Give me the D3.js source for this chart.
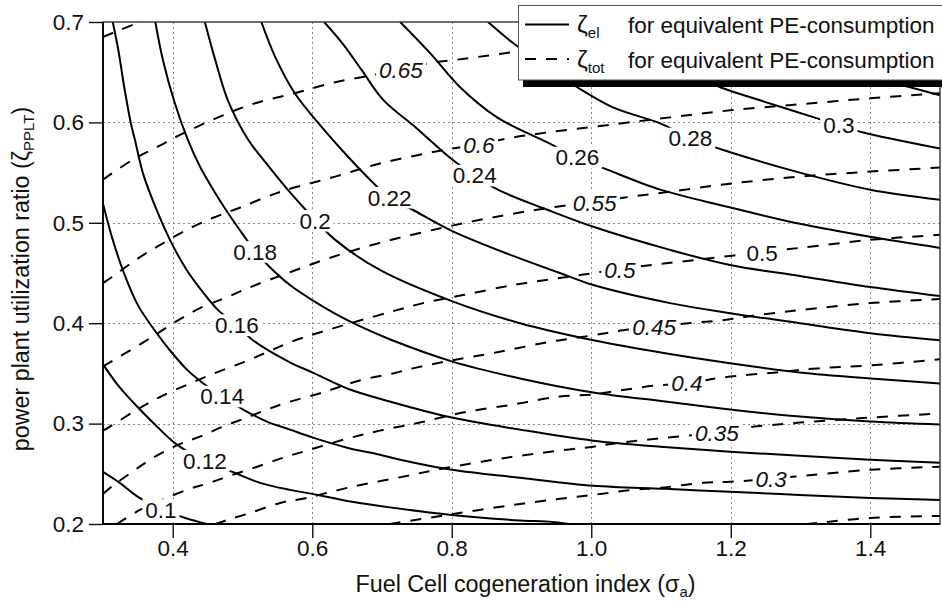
<!DOCTYPE html>
<html>
<head>
<meta charset="utf-8">
<script src="https://cdn.jsdelivr.net/npm/d3@7"></script>
<style>
  html, body { margin: 0; padding: 0; background: #fff; }
  svg { display: block; font-family: "Liberation Sans", Arial, sans-serif; }
</style>
</head>
<body>
<svg id="chart" width="942" height="609"></svg>
<script>
// Contour data: [sigma_a, zeta_PPLT] pairs

// solid lines: zeta_el for equivalent PE-consumption
const el010 = [[0.300,0.252],[0.324,0.241],[0.350,0.227],[0.383,0.215],[0.418,0.206],[0.449,0.200],[0.475,0.196]];
const el012 = [[0.300,0.359],[0.324,0.336],[0.353,0.314],[0.382,0.294],[0.406,0.279],[0.446,0.263],[0.489,0.251],[0.525,0.241],[0.568,0.234],[0.600,0.230],[0.650,0.223],[0.697,0.218],[0.800,0.209],[0.898,0.2035],[0.945,0.202],[0.998,0.197]];
const el014 = [[0.300,0.519],[0.314,0.483],[0.330,0.450],[0.350,0.418],[0.375,0.392],[0.396,0.373],[0.420,0.354],[0.442,0.341],[0.471,0.327],[0.501,0.314],[0.535,0.302],[0.568,0.294],[0.601,0.286],[0.650,0.276],[0.697,0.269],[0.726,0.264],[0.800,0.254],[0.898,0.246],[1.003,0.238],[1.106,0.235],[1.199,0.232],[1.299,0.229],[1.400,0.226],[1.500,0.224]];
const el016 = [[0.314,0.700],[0.322,0.672],[0.330,0.637],[0.340,0.599],[0.346,0.582],[0.357,0.550],[0.375,0.516],[0.396,0.483],[0.420,0.453],[0.442,0.432],[0.465,0.413],[0.492,0.398],[0.515,0.383],[0.568,0.361],[0.600,0.351],[0.650,0.335],[0.711,0.322],[0.800,0.306],[0.898,0.294],[1.003,0.283],[1.099,0.277],[1.199,0.272],[1.299,0.268],[1.400,0.264],[1.500,0.261]];
const el018 = [[0.375,0.700],[0.386,0.662],[0.403,0.619],[0.422,0.582],[0.439,0.556],[0.458,0.533],[0.479,0.510],[0.501,0.488],[0.518,0.472],[0.539,0.456],[0.568,0.438],[0.600,0.423],[0.634,0.409],[0.668,0.397],[0.711,0.384],[0.800,0.362],[0.898,0.345],[1.003,0.331],[1.106,0.322],[1.199,0.314],[1.299,0.307],[1.400,0.302],[1.500,0.299]];
const el020 = [[0.446,0.700],[0.461,0.662],[0.479,0.622],[0.508,0.583],[0.539,0.555],[0.571,0.528],[0.604,0.503],[0.633,0.483],[0.697,0.453],[0.800,0.422],[0.898,0.400],[1.003,0.383],[1.106,0.370],[1.199,0.360],[1.299,0.351],[1.400,0.345],[1.500,0.340]];
const el022 = [[0.527,0.700],[0.547,0.665],[0.575,0.629],[0.614,0.595],[0.651,0.566],[0.687,0.540],[0.711,0.525],[0.744,0.513],[0.800,0.492],[0.888,0.467],[0.955,0.450],[1.003,0.438],[1.113,0.420],[1.199,0.410],[1.299,0.400],[1.400,0.390],[1.500,0.383]];
const el024 = [[0.617,0.700],[0.643,0.679],[0.671,0.652],[0.701,0.623],[0.750,0.594],[0.797,0.565],[0.833,0.547],[0.866,0.533],[0.937,0.513],[1.003,0.496],[1.113,0.473],[1.199,0.458],[1.299,0.447],[1.400,0.436],[1.500,0.427]];
const el026 = [[0.726,0.700],[0.769,0.669],[0.812,0.635],[0.865,0.605],[0.937,0.580],[0.980,0.565],[1.023,0.553],[1.099,0.533],[1.195,0.516],[1.299,0.499],[1.400,0.486],[1.500,0.475]];
const el028 = [[0.852,0.700],[0.888,0.679],[0.934,0.656],[0.980,0.635],[1.031,0.615],[1.099,0.599],[1.142,0.584],[1.187,0.573],[1.299,0.550],[1.400,0.533],[1.500,0.523]];
const el030 = [[1.013,0.700],[1.084,0.672],[1.142,0.649],[1.185,0.635],[1.242,0.622],[1.324,0.604],[1.355,0.597],[1.390,0.590],[1.500,0.574]];
const el032 = [[1.156,0.700],[1.242,0.676],[1.328,0.658],[1.414,0.643],[1.500,0.627]];

// dashed lines: zeta_tot for equivalent PE-consumption
const tot070 = [[0.300,0.685],[0.324,0.692],[0.357,0.701]];
const tot065 = [[0.300,0.543],[0.343,0.563],[0.382,0.577],[0.403,0.585],[0.465,0.605],[0.518,0.619],[0.575,0.629],[0.633,0.640],[0.686,0.647],[0.727,0.653],[0.776,0.660],[0.802,0.662],[0.888,0.670],[1.013,0.682],[1.156,0.692],[1.299,0.700]];
const tot060 = [[0.300,0.440],[0.313,0.446],[0.349,0.464],[0.382,0.478],[0.420,0.493],[0.458,0.505],[0.496,0.515],[0.535,0.526],[0.564,0.533],[0.633,0.546],[0.697,0.559],[0.793,0.573],[0.839,0.578],[0.879,0.584],[0.937,0.590],[1.031,0.598],[1.113,0.605],[1.199,0.612],[1.299,0.618],[1.400,0.624],[1.500,0.629]];
const tot055 = [[0.300,0.357],[0.339,0.373],[0.372,0.387],[0.403,0.401],[0.439,0.415],[0.478,0.426],[0.515,0.437],[0.565,0.450],[0.625,0.465],[0.697,0.480],[0.793,0.496],[0.879,0.508],[0.951,0.516],[1.005,0.521],[1.046,0.525],[1.113,0.531],[1.199,0.539],[1.299,0.546],[1.400,0.551],[1.500,0.555]];
const tot050 = [[0.300,0.293],[0.310,0.297],[0.349,0.314],[0.386,0.328],[0.425,0.340],[0.463,0.351],[0.501,0.361],[0.535,0.371],[0.568,0.381],[0.621,0.393],[0.711,0.411],[0.759,0.420],[0.816,0.428],[0.888,0.438],[0.945,0.444],[0.994,0.449],[1.041,0.454],[1.099,0.459],[1.199,0.467],[1.245,0.471],[1.299,0.475],[1.400,0.483],[1.500,0.488]];
const tot045 = [[0.300,0.230],[0.314,0.238],[0.342,0.252],[0.372,0.266],[0.408,0.279],[0.439,0.287],[0.472,0.297],[0.506,0.306],[0.535,0.314],[0.564,0.321],[0.615,0.331],[0.668,0.343],[0.716,0.350],[0.744,0.355],[0.800,0.363],[0.865,0.371],[0.937,0.381],[1.003,0.388],[1.046,0.393],[1.090,0.396],[1.139,0.400],[1.189,0.403],[1.238,0.408],[1.299,0.413],[1.400,0.420],[1.500,0.424]];
const tot040 = [[0.320,0.200],[0.353,0.214],[0.420,0.234],[0.453,0.241],[0.486,0.249],[0.521,0.257],[0.558,0.266],[0.587,0.272],[0.650,0.285],[0.697,0.293],[0.754,0.301],[0.816,0.311],[0.888,0.319],[0.955,0.327],[1.003,0.329],[1.031,0.332],[1.094,0.338],[1.137,0.340],[1.189,0.346],[1.266,0.351],[1.324,0.355],[1.400,0.358],[1.500,0.364]];
const tot035 = [[0.461,0.200],[0.478,0.204],[0.511,0.211],[0.554,0.221],[0.592,0.226],[0.650,0.236],[0.722,0.246],[0.793,0.256],[0.888,0.267],[0.965,0.274],[1.003,0.277],[1.031,0.280],[1.094,0.285],[1.180,0.291],[1.223,0.296],[1.299,0.301],[1.400,0.306],[1.500,0.310]];
const tot030 = [[0.711,0.200],[0.793,0.209],[0.888,0.219],[0.965,0.226],[1.003,0.229],[1.060,0.234],[1.099,0.236],[1.160,0.241],[1.199,0.242],[1.258,0.245],[1.289,0.247],[1.400,0.254],[1.500,0.257]];
const tot025 = [[1.308,0.200],[1.324,0.201],[1.400,0.206],[1.500,0.208]];

// inline contour labels
const elLabelText = ["0.1", "0.12", "0.14", "0.16", "0.18", "0.2", "0.22", "0.24", "0.26", "0.28", "0.3"];
const elLabelPos = [[0.383,0.214],[0.446,0.263],[0.471,0.327],[0.492,0.398],[0.518,0.471],[0.604,0.502],[0.711,0.525],[0.833,0.547],[0.980,0.565],[1.142,0.584],[1.355,0.597]];
const totLabelText = ["0.65", "0.6", "0.55", "0.5", "0.5", "0.45", "0.4", "0.35", "0.3"];
const totLabelPos = [[0.727,0.652],[0.839,0.577],[1.005,0.520],[1.041,0.453],[1.245,0.470],[1.090,0.396],[1.137,0.340],[1.180,0.291],[1.258,0.245]];
const totLabelItalic = [true, true, true, true, false, true, true, true, true];

// axes
const xTicks = [0.4, 0.6, 0.8, 1.0, 1.2, 1.4];
const yTicks = [0.2, 0.3, 0.4, 0.5, 0.6, 0.7];

const elLines = [el010, el012, el014, el016, el018, el020, el022, el024, el026, el028, el030, el032];
const totLines = [tot070, tot065, tot060, tot055, tot050, tot045, tot040, tot035, tot030, tot025];

const FS = 22.5;
const svg = d3.select('#chart');
const x = d3.scaleLinear().domain([0.3, 1.5]).range([103, 940]);
const y = d3.scaleLinear().domain([0.2, 0.7]).range([524, 22]);

svg.append('defs').append('clipPath').attr('id', 'plotClip')
    .append('rect')
    .attr('x', x(0.3)).attr('y', y(0.7))
    .attr('width', x(1.5) - x(0.3)).attr('height', y(0.2) - y(0.7));

// dotted grid
const grid = svg.append('g').attr('stroke', '#8a8a8a').attr('stroke-width', 1).attr('stroke-dasharray', '2,3');
grid.selectAll('line.gx').data(xTicks).join('line')
    .attr('x1', d => Math.round(x(d)) + 0.5).attr('x2', d => Math.round(x(d)) + 0.5)
    .attr('y1', y(0.7)).attr('y2', y(0.2));
grid.selectAll('line.gy').data(yTicks.slice(1, -1)).join('line')
    .attr('y1', d => Math.round(y(d)) + 0.5).attr('y2', d => Math.round(y(d)) + 0.5)
    .attr('x1', x(0.3)).attr('x2', x(1.5));

// contour lines
const line = d3.line()
    .x(d => x(d[0]))
    .y(d => y(d[1]))
    .curve(d3.curveCatmullRom.alpha(0.5));

const lines = svg.append('g').attr('clip-path', 'url(#plotClip)')
    .attr('fill', 'none').attr('stroke', '#000').attr('stroke-width', 2);
lines.selectAll('path.el').data(elLines).join('path')
    .attr('class', 'el').attr('d', line);
lines.selectAll('path.tot').data(totLines).join('path')
    .attr('class', 'tot').attr('d', line)
    .attr('stroke-dasharray', '11,10');

// labels on a white patch that breaks the line
function addLabel(g, txt, pos, italic) {
    const lg = g.append('g');
    const rect = lg.append('rect').attr('fill', '#fff');
    const t = lg.append('text')
        .attr('x', x(pos[0])).attr('y', y(pos[1]))
        .attr('dy', '0.35em')
        .attr('text-anchor', 'middle')
        .attr('font-size', FS)
        .attr('font-style', italic ? 'italic' : 'normal')
        .attr('fill', '#111')
        .text(txt);
    const bb = t.node().getBBox();
    rect.attr('x', bb.x - 3).attr('width', bb.width + 6)
        .attr('y', y(pos[1]) - FS * 0.48).attr('height', FS * 0.96);
}
const labels = svg.append('g');
elLabelText.forEach((t, i) => addLabel(labels, t, elLabelPos[i], false));
totLabelText.forEach((t, i) => addLabel(labels, t, totLabelPos[i], totLabelItalic[i]));

// frame: dark left/bottom axes, lighter top/right box
svg.append('rect')
    .attr('x', x(0.3)).attr('y', y(0.7))
    .attr('width', x(1.5) - x(0.3)).attr('height', y(0.2) - y(0.7))
    .attr('fill', 'none').attr('stroke', '#333').attr('stroke-width', 1.4);
svg.append('path')
    .attr('d', `M${x(0.3)},${y(0.7)}V${y(0.2)}H${x(1.5)}`)
    .attr('fill', 'none').attr('stroke', '#000').attr('stroke-width', 1.8);

// axes
const xAxis = svg.append('g').attr('transform', `translate(0,${y(0.2)})`)
    .call(d3.axisBottom(x).tickValues(xTicks).tickFormat(d3.format('.1f')).tickSize(14).tickSizeOuter(0).tickPadding(2));
const yAxis = svg.append('g').attr('transform', `translate(${x(0.3)},0)`)
    .call(d3.axisLeft(y).tickValues(yTicks).tickFormat(d3.format('.1f')).tickSize(14).tickSizeOuter(0).tickPadding(5));
[xAxis, yAxis].forEach(a => {
    a.select('.domain').remove();
    a.selectAll('.tick line').attr('stroke', '#111').attr('stroke-width', 1.4);
    a.selectAll('.tick text').attr('font-size', FS).attr('fill', '#111')
        .attr('font-family', '"Liberation Sans", Arial, sans-serif');
});

// axis titles
const TFS = 23.3;
const xt = svg.append('text')
    .attr('x', (x(0.3) + x(1.5)) / 2 + 4).attr('y', 592)
    .attr('text-anchor', 'middle').attr('font-size', TFS).attr('fill', '#111');
xt.append('tspan').text('Fuel Cell cogeneration index (σ');
xt.append('tspan').attr('font-size', 15).attr('dy', 5).text('a');
xt.append('tspan').attr('dy', -5).text(')');

const yt = svg.append('text')
    .attr('transform', `translate(29,${(y(0.2) + y(0.7)) / 2 + 6}) rotate(-90)`)
    .attr('text-anchor', 'middle').attr('font-size', TFS).attr('fill', '#111');
yt.append('tspan').text('power plant utilization ratio (ζ');
yt.append('tspan').attr('font-size', 15).attr('dy', 5).text('PPLT');
yt.append('tspan').attr('dy', -5).text(')');

// legend box with drop shadow
const legend = svg.append('g');
legend.append('rect').attr('x', 523).attr('y', 12).attr('width', 430).attr('height', 75).attr('fill', '#000');
legend.append('rect').attr('x', 518.5).attr('y', 5.5).attr('width', 430).attr('height', 74.5)
    .attr('fill', '#fff').attr('stroke', '#555').attr('stroke-width', 1);

const legendRows = [
    { sub: 'el', dash: null, ly: 24.5, base: 33 },
    { sub: 'tot', dash: '11,10', ly: 59, base: 68 }
];
legendRows.forEach(r => {
    legend.append('line')
        .attr('x1', 525).attr('x2', 569).attr('y1', r.ly).attr('y2', r.ly)
        .attr('stroke', '#000').attr('stroke-width', 2)
        .attr('stroke-dasharray', r.dash);
    const sym = legend.append('text').attr('x', 577).attr('y', r.base)
        .attr('font-size', FS + 2).attr('fill', '#111');
    sym.append('tspan').text('ζ');
    sym.append('tspan').attr('font-size', 15).attr('dy', 5).text(r.sub);
    legend.append('text').attr('x', 628).attr('y', r.base)
        .attr('font-size', FS).attr('fill', '#111')
        .text('for equivalent PE-consumption');
});
</script>
</body>
</html>
